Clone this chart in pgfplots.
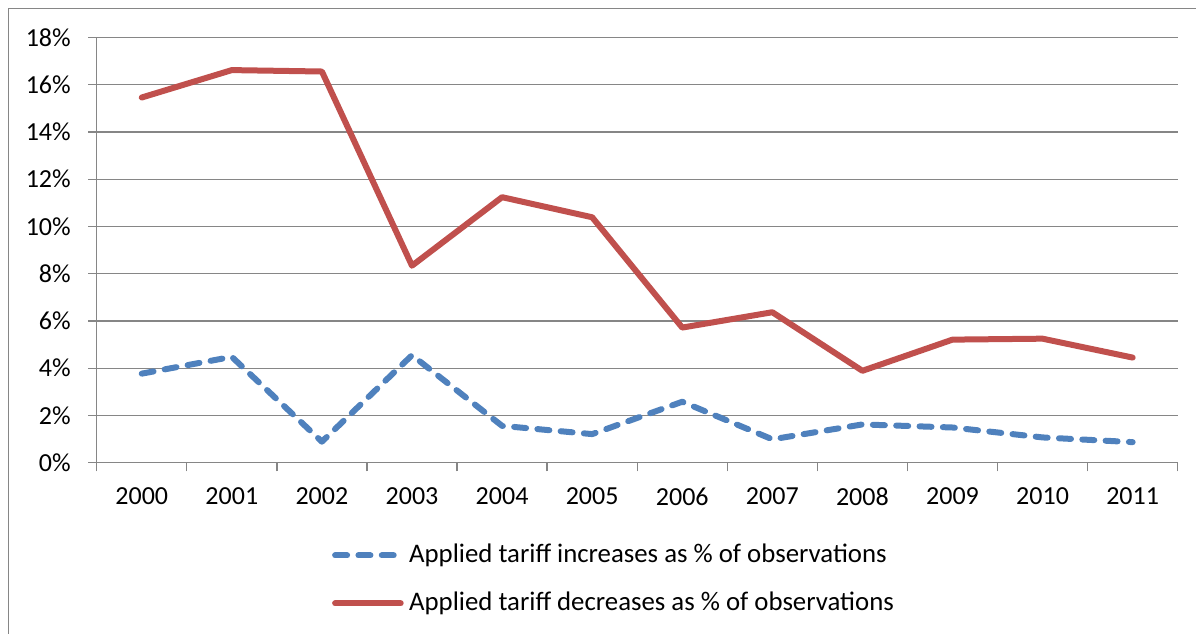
\documentclass[border=0pt]{standalone}
\usepackage{fontspec}
\setmainfont{Carlito}
\usepackage{pgfplots}
\pgfplotsset{compat=1.18}

\definecolor{incblue}{RGB}{79,129,189}
\definecolor{decred}{RGB}{192,80,77}
\definecolor{axisgray}{RGB}{134,134,134}

\pgfplotsset{
  short legend line/.style={legend image code/.code={
      \path[draw=none] (0pt,0pt) -- (36pt,0pt);
      \draw[##1] (1.5pt,0pt) -- (30.8pt,0pt);
    }},
  long legend line/.style={legend image code/.code={
      \path[draw=none] (0pt,0pt) -- (36pt,0pt);
      \draw[##1] (1.5pt,0pt) -- (34.3pt,0pt);
    }},
}

\begin{document}
\begin{tikzpicture}[x=1pt,y=1pt]
  \useasboundingbox (0,0) rectangle (598,316.5);
  % outer chart frame
  \draw[axisgray, line width=0.65pt] (4.15,-10) -- (4.15,312.35) -- (610,312.35);
  \begin{axis}[
    at={(48.35pt,85.15pt)}, anchor=south west,
    scale only axis,
    width=540.5pt, height=212.6pt,
    font=\fontsize{13}{15}\selectfont,
    /pgf/number format/assume math mode=true,
    xmin=-0.5, xmax=11.5,
    ymin=0, ymax=18,
    xtick={-0.5,0.5,...,11.5},
    x tick label as interval,
    xticklabels={2000,2001,2002,2003,2004,2005,2006,2007,2008,2009,2010,2011},
    ytick={0,2,...,18},
    yticklabel={\pgfmathprintnumber{\tick}\%},
    axis x line=bottom, axis y line=left,
    axis line style={-, axisgray, line width=0.65pt},
    tick style={axisgray, line width=0.65pt},
    tick align=outside,
    major tick length=4.3pt,
    ymajorgrids,
    grid style={axisgray, line width=0.65pt},
    xticklabel style={inner sep=0pt, anchor=north, yshift=-8pt},
    yticklabel style={inner sep=0pt, anchor=east, xshift=-8.5pt},
    legend style={
      at={(0.2174,-0.1607)}, anchor=north west,
      draw=none, fill=none, inner sep=0pt,
      row sep=0pt, column sep=2.5pt,
      nodes={inner sep=0pt, text height=15.5pt, text depth=8.5pt},
      font=\fontsize{13.4}{15}\selectfont,
    },
    legend cell align=left,
  ]
    % share of observations with applied tariff increases
    \addplot[incblue, line width=3pt, line cap=round, line join=round,
             dash pattern=on 6pt off 5.67pt, short legend line]
      coordinates {(0,3.77) (1,4.48) (2,0.89) (3,4.55) (4,1.56) (5,1.21)
                   (6,2.58) (7,0.99) (8,1.62) (9,1.49) (10,1.07) (11,0.87)};
    \addlegendentry{Applied tariff increases as \% of observations}
    % share of observations with applied tariff decreases
    \addplot[decred, line width=3pt, line cap=round, line join=round,
             long legend line]
      coordinates {(0,15.46) (1,16.62) (2,16.56) (3,8.34) (4,11.24) (5,10.39)
                   (6,5.72) (7,6.37) (8,3.89) (9,5.21) (10,5.25) (11,4.45)};
    \addlegendentry{Applied tariff decreases as \% of observations}
  \end{axis}
\end{tikzpicture}
\end{document}
